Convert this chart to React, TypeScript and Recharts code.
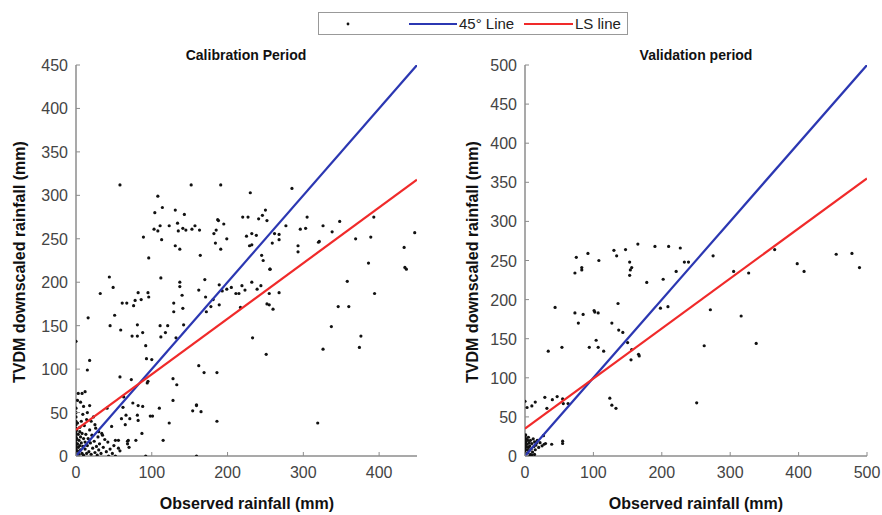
import React from 'react';
import { ScatterChart, Scatter, XAxis, YAxis } from 'recharts';

// Calibration period: [observed, TVDM downscaled]
const calibrationPoints: number[][] = [
  [58,312],[108,299],[114,286],[104,280],[111,265],[103,261],[108,259],[113,249],[89,252],[96,228],
  [123,265],[131,283],[134,268],[135,259],[131,242],[137,238],[143,278],[141,262],[145,260],[152,312],
  [153,261],[157,265],[163,260],[164,231],[182,256],[185,260],[184,245],[187,272],[188,271],[191,312],
  [195,267],[191,238],[199,250],[220,275],[227,275],[230,303],[225,253],[229,242],[232,243],[232,256],
  [238,254],[241,273],[246,277],[250,283],[252,271],[245,231],[247,225],[256,215],[259,245],[262,256],
  [268,255],[268,249],[277,265],[285,308],[293,242],[293,235],[296,261],[305,275],[303,262],[320,246],
  [321,247],[326,265],[338,258],[348,270],[369,250],[389,252],[393,275],[386,222],[433,240],[436,215],
  [447,257],
  [32,187],[44,206],[49,194],[51,162],[45,150],[16,159],[18,110],[15,99],[0,132],[59,145],
  [61,176],[67,176],[76,173],[78,179],[82,188],[86,180],[95,188],[96,183],[74,138],[81,151],
  [81,138],[88,142],[92,127],[93,112],[100,111],[95,86],[94,84],[58,91],[73,88],[63,68],
  [75,61],[82,58],[62,56],[66,47],[71,43],[81,47],[88,57],[101,46],[87,26],[79,18],
  [68,17],[68,14],[56,18],[52,18],[47,34],[41,55],[56,9],[43,0],[52,0],[92,0],
  [111,150],[118,142],[121,150],[112,205],[112,137],[129,176],[129,166],[132,136],[137,200],[137,195],
  [140,185],[141,170],[142,151],[128,89],[133,82],[128,64],[123,38],[115,18],[154,52],[159,58],
  [165,51],[162,191],[170,203],[171,183],[172,166],[178,172],[181,180],[189,197],[189,174],[193,190],
  [199,192],[162,104],[169,96],[186,96],[186,40],[159,0],[205,194],[211,187],[215,187],[217,171],
  [219,196],[223,191],[232,200],[239,192],[244,196],[233,136],[256,215],[255,187],[252,175],[255,174],
  [260,169],[268,188],[251,117],[319,38],[326,123],[337,149],[346,172],[358,201],[360,172],[374,125],
  [376,138],[394,187],[434,217],
  [60,43],[65,36],[82,41],[69,18],[50,12],[98,46],[159,59],
  [0,55],[0,50],[0,45],[0,40],[0,36],[0,32],[0,28],[0,25],[0,22],[0,18],[0,15],[0,12],[0,10],[0,8],
  [0,5],[0,3],[0,1],[1,20],[1,30],[2,14],[2,38],[2,6],[3,25],[3,10],[4,18],[4,2],[5,33],[5,12],
  [5,28],[6,7],[6,22],[7,40],[7,15],[8,3],[8,26],[9,11],[9,48],[10,20],[10,1],[11,35],[12,8],[12,16],
  [13,25],[14,3],[14,42],[15,12],[16,20],[17,5],[18,58],[18,30],[19,15],[20,2],[21,24],[22,9],[23,45],
  [24,17],[25,4],[26,32],[27,11],[28,1],[29,22],[30,7],[31,14],[33,3],[34,26],[36,10],[38,19],[40,5],
  [3,72],[8,72],[12,74],[2,64],[10,57],[15,50],[6,62],[20,40],[25,36],[30,28],[35,24],[42,16],[45,8],
  [48,3],[58,6],[70,10],[110,55],
];

// Validation period: [observed, TVDM downscaled]
const validationPoints: number[][] = [
  [75,254],[92,259],[108,250],[130,263],[134,256],[147,264],[153,248],[165,271],[190,268],[210,268],
  [227,266],[233,248],[239,248],[275,256],[365,264],[455,258],[478,259],[489,241],[83,238],[154,238],
  [221,236],[398,246],[408,236],
  [73,234],[83,241],[153,231],[156,241],[178,222],[202,226],[305,236],[327,234],
  [44,190],[73,183],[85,181],[78,170],[101,186],[102,184],[107,183],[136,195],[127,170],[137,161],
  [143,158],[150,145],[156,136],[155,123],[166,130],[167,128],[104,148],[94,139],[107,139],[115,134],
  [34,134],[54,139],[124,74],[127,65],[133,61],[198,189],[209,191],[271,187],[262,141],[316,179],
  [338,144],[251,68],
  [0,70],[3,62],[10,64],[15,69],[29,75],[32,61],[40,72],[47,76],[55,73],[56,67],[63,67],
  [17,17],[30,16],[39,15],[55,19],[55,16],[27,26],[10,1],
  [0,25],[0,22],[0,19],[0,16],[0,13],[0,10],[0,7],[0,4],[0,2],[1,27],[1,18],[2,12],[2,22],[3,8],
  [3,15],[4,20],[4,4],[5,11],[5,24],[6,17],[6,7],[7,13],[8,20],[8,2],[9,9],[10,16],[11,5],[12,22],
  [13,12],[14,18],[15,8],[16,14],[18,20],[20,11],[22,17],[25,13],[28,15],[6,0],[14,2],
];

// Reference lines (endpoints)
const calLine45 = [{ x: 0, y: 0 }, { x: 450, y: 450 }];
const calLineLS = [{ x: 0, y: 30 }, { x: 450, y: 318 }];
const valLine45 = [{ x: 0, y: 0 }, { x: 500, y: 500 }];
const valLineLS = [{ x: 0, y: 35 }, { x: 500, y: 355 }];

const calXTicks = [0, 100, 200, 300, 400];
const calYTicks = [0, 50, 100, 150, 200, 250, 300, 350, 400, 450];
const valXTicks = [0, 100, 200, 300, 400, 500];
const valYTicks = [0, 50, 100, 150, 200, 250, 300, 350, 400, 450, 500];

const BLUE = '#2b37b2';
const RED = '#f02a2a';
const AXIS = '#8c8c8c';
const FONT = '"Liberation Sans", Arial, Helvetica, sans-serif';

const XTick = (props: any) => {
  const { x, y, payload } = props;
  return (
    <g>
      <line x1={x} x2={x} y1={y - 9} y2={y - 13} stroke={AXIS} strokeWidth={1} />
      <text x={x} y={y} dy={13} textAnchor="middle" fill="#444" fontSize={16} fontFamily={FONT}>
        {payload.value}
      </text>
    </g>
  );
};

const YTick = (props: any) => {
  const { x, y, payload } = props;
  return (
    <g>
      <line x1={x + 8} x2={x + 12} y1={y} y2={y} stroke={AXIS} strokeWidth={1} />
      <text x={x} y={y} dy={6} textAnchor="end" fill="#444" fontSize={16} fontFamily={FONT}>
        {payload.value}
      </text>
    </g>
  );
};

const Dot = (props: any) => <circle cx={props.cx} cy={props.cy} r={1.6} fill="#111" />;
const NoShape = () => <g />;

const toObjs = (arr: number[][]) => arr.map(([x, y]) => ({ x, y }));

const Panel = ({ points, l45, lls, xMax, yMax, xTicks, yTicks, yW, right }: any) => (
  <ScatterChart
    width={yW + (xMax === 450 ? 341 : 342) + right}
    height={515}
    margin={{ top: 65, right, bottom: 0, left: 0 }}
  >
    <XAxis
      type="number"
      dataKey="x"
      domain={[0, xMax]}
      ticks={xTicks}
      height={59}
      allowDataOverflow
      stroke={AXIS}
      strokeWidth={1.5}
      tickLine={false}
      tickSize={4}
      tickMargin={5}
      tick={<XTick />}
    />
    <YAxis
      type="number"
      dataKey="y"
      domain={[0, yMax]}
      ticks={yTicks}
      width={yW}
      allowDataOverflow
      stroke={AXIS}
      strokeWidth={1.5}
      tickLine={false}
      tickSize={4}
      tickMargin={4}
      tick={<YTick />}
    />
    <Scatter data={toObjs(points)} shape={<Dot />} isAnimationActive={false} />
    <Scatter data={l45} line={{ stroke: BLUE, strokeWidth: 2.2 }} shape={<NoShape />} isAnimationActive={false} />
    <Scatter data={lls} line={{ stroke: RED, strokeWidth: 2.2 }} shape={<NoShape />} isAnimationActive={false} />
  </ScatterChart>
);

export default function App() {
  return (
    <div style={{ position: 'absolute', left: 0, top: 0, width: 882, height: 515, background: '#fff', fontFamily: FONT }}>
      <div style={{ position: 'absolute', left: 0, top: 0 }}>
        <Panel points={calibrationPoints} l45={calLine45} lls={calLineLS} xMax={450} yMax={450}
          xTicks={calXTicks} yTicks={calYTicks} yW={76} right={23} />
      </div>
      <div style={{ position: 'absolute', left: 440, top: 0 }}>
        <Panel points={validationPoints} l45={valLine45} lls={valLineLS} xMax={500} yMax={500}
          xTicks={valXTicks} yTicks={valYTicks} yW={85} right={15} />
      </div>
      <svg width={882} height={515} style={{ position: 'absolute', left: 0, top: 0, pointerEvents: 'none' }}>
        <text x={246} y={60} textAnchor="middle" fontWeight="bold" fontSize={14} fill="#111" fontFamily={FONT}>Calibration Period</text>
        <text x={696} y={60} textAnchor="middle" fontWeight="bold" fontSize={14} fill="#111" fontFamily={FONT}>Validation period</text>
        <text x={247} y={509} textAnchor="middle" fontWeight="bold" fontSize={16} fill="#111" fontFamily={FONT}>Observed rainfall (mm)</text>
        <text x={696} y={509} textAnchor="middle" fontWeight="bold" fontSize={16} fill="#111" fontFamily={FONT}>Observed rainfall (mm)</text>
        <text transform="translate(25,262) rotate(-90)" textAnchor="middle" fontWeight="bold" fontSize={16} fill="#111" fontFamily={FONT}>TVDM downscaled rainfall (mm)</text>
        <text transform="translate(478,262) rotate(-90)" textAnchor="middle" fontWeight="bold" fontSize={16} fill="#111" fontFamily={FONT}>TVDM downscaled rainfall (mm)</text>
        {/* Legend */}
        <rect x={318.5} y={12.5} width={309} height={22} fill="#fff" stroke="#999" strokeWidth={1} />
        <circle cx={348} cy={24} r={1.4} fill="#111" />
        <line x1={409} x2={457} y1={24} y2={24} stroke={BLUE} strokeWidth={2} />
        <text x={459} y={29} fontSize={15} fill="#222" fontFamily={FONT}>45° Line</text>
        <line x1={524} x2={573} y1={24} y2={24} stroke={RED} strokeWidth={2} />
        <text x={575} y={29} fontSize={15} fill="#222" fontFamily={FONT}>LS line</text>
      </svg>
    </div>
  );
}
